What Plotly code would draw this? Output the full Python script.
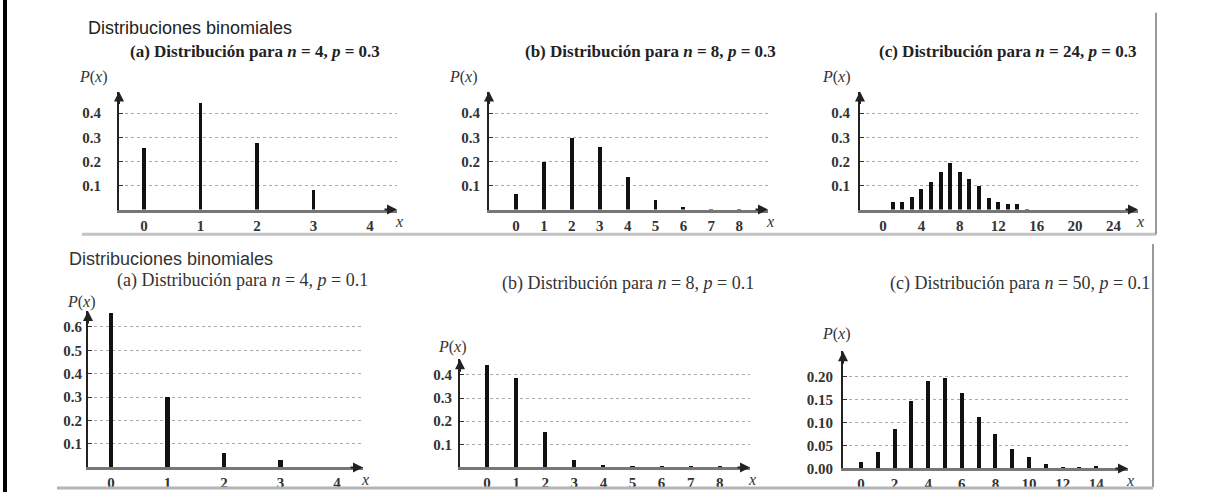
import plotly.graph_objects as go

# ---------------- data ----------------
top_a_x = [0, 1, 2, 3, 4]
top_a_p = [0.256, 0.445, 0.28, 0.082, 0.0]

top_b_x = [0, 1, 2, 3, 4, 5, 6, 7, 8]
top_b_p = [0.065, 0.20, 0.298, 0.262, 0.136, 0.041, 0.014, 0.006, 0.003]

top_c_x = list(range(0, 25))
top_c_p = [0.0, 0.034, 0.034, 0.054, 0.088, 0.115, 0.156, 0.194, 0.156, 0.129,
           0.102, 0.052, 0.034, 0.027, 0.027, 0.003, 0.0, 0.0, 0.0, 0.0,
           0.0, 0.0, 0.0, 0.0, 0.0]

bot_a_x = [0, 1, 2, 3, 4]
bot_a_p = [0.66, 0.30, 0.063, 0.03, 0.0]

bot_b_x = [0, 1, 2, 3, 4, 5, 6, 7, 8]
bot_b_p = [0.44, 0.387, 0.152, 0.031, 0.008, 0.004, 0.004, 0.003, 0.003]

bot_c_x = list(range(0, 16))
bot_c_p = [0.014, 0.036, 0.086, 0.146, 0.189, 0.196, 0.163, 0.111, 0.075, 0.041,
           0.024, 0.009, 0.003, 0.002, 0.005, 0.0]

top_a_xticks = [0, 1, 2, 3, 4]
top_b_xticks = [0, 1, 2, 3, 4, 5, 6, 7, 8]
top_c_xticks = [0, 4, 8, 12, 16, 20, 24]
bot_a_xticks = [0, 1, 2, 3, 4]
bot_b_xticks = [0, 1, 2, 3, 4, 5, 6, 7, 8]
bot_c_xticks = [0, 2, 4, 6, 8, 10, 12, 14]

top_yticks = [0.1, 0.2, 0.3, 0.4]
top_yticktext = ["0.1", "0.2", "0.3", "0.4"]
bot_a_yticks = [0.1, 0.2, 0.3, 0.4, 0.5, 0.6]
bot_a_yticktext = ["0.1", "0.2", "0.3", "0.4", "0.5", "0.6"]
bot_b_yticks = [0.1, 0.2, 0.3, 0.4]
bot_b_yticktext = ["0.1", "0.2", "0.3", "0.4"]
bot_c_yticks = [0.0, 0.05, 0.10, 0.15, 0.20]
bot_c_yticktext = ["0.00", "0.05", "0.10", "0.15", "0.20"]

top_titles = [
    "<b>(a) Distribución para <i>n</i> = 4, <i>p</i> = 0.3</b>",
    "<b>(b) Distribución para <i>n</i> = 8, <i>p</i> = 0.3</b>",
    "<b>(c) Distribución para <i>n</i> = 24, <i>p</i> = 0.3</b>",
]
bot_titles = [
    "(a) Distribución para <i>n</i> = 4, <i>p</i> = 0.1",
    "(b) Distribución para <i>n</i> = 8, <i>p</i> = 0.1",
    "(c) Distribución para <i>n</i> = 50, <i>p</i> = 0.1",
]
header = "Distribuciones binomiales"

# ---------------- layout helpers ----------------
W, H = 1210, 500


def px(x):
    return x / W


def py(y):
    return 1 - y / H


panels = [
    dict(x0=119, x1=397, yt=93, yb=213, xr=[-0.442, 4.478], yr=[0, 0.49], bw=0.07,
         x=top_a_x, p=top_a_p, xt=top_a_xticks, yv=top_yticks, ytx=top_yticktext, so=13),
    dict(x0=489, x1=768, yt=93, yb=213, xr=[-0.968, 9.03], yr=[0, 0.49], bw=0.14,
         x=top_b_x, p=top_b_p, xt=top_b_xticks, yv=top_yticks, ytx=top_yticktext, so=4),
    dict(x0=860, x1=1138, yt=93, yb=213, xr=[-2.40, 26.56], yr=[0, 0.49], bw=0.42,
         x=top_c_x, p=top_c_p, xt=top_c_xticks, yv=top_yticks, ytx=top_yticktext, so=5),
    dict(x0=88, x1=363, yt=316, yb=475, xr=[-0.407, 4.46], yr=[0, 0.668], bw=0.08,
         x=bot_a_x, p=bot_a_p, xt=bot_a_xticks, yv=bot_a_yticks, ytx=bot_a_yticktext, so=1),
    dict(x0=460, x1=750, yt=365, yb=475, xr=[-0.93, 9.04], yr=[0, 0.468], bw=0.14,
         x=bot_b_x, p=bot_b_p, xt=bot_b_xticks, yv=bot_b_yticks, ytx=bot_b_yticktext, so=3),
    dict(x0=843, x1=1128, yt=357, yb=476, xr=[-1.07, 15.89], yr=[0, 0.255], bw=0.24,
         x=bot_c_x, p=bot_c_p, xt=bot_c_xticks, yv=bot_c_yticks, ytx=bot_c_yticktext, so=5),
]

# P(x) label offsets (px) relative to axis corner
plabel = [(-26, -15), (-26, -15), (-24, -15), (-6, -9), (-8, -12), (-7, -18)]

fig = go.Figure()
layout = dict(
    width=W, height=H, margin=dict(l=0, r=0, t=0, b=0),
    paper_bgcolor="white", plot_bgcolor="rgba(0,0,0,0)",
    showlegend=False, bargap=0,
)
annotations = []
shapes = []

serif = "Liberation Serif"

for i, pn in enumerate(panels, start=1):
    xa = "x" if i == 1 else f"x{i}"
    ya = "y" if i == 1 else f"y{i}"
    fig.add_trace(go.Bar(x=pn["x"], y=pn["p"], width=pn["bw"],
                         marker=dict(color="#111", line=dict(width=0)),
                         xaxis=xa, yaxis=ya, hoverinfo="x+y"))
    key = "" if i == 1 else str(i)
    layout["xaxis" + key] = dict(
        domain=[px(pn["x0"]), px(pn["x1"])], range=pn["xr"], anchor=ya,
        showgrid=False, zeroline=False, showline=True, linecolor="#777", linewidth=3,
        tickmode="array", tickvals=pn["xt"], ticktext=[str(v) for v in pn["xt"]],
        ticks="", ticklabelstandoff=0,
        tickfont=dict(family=serif, size=15, color="#333", weight="bold"),
        fixedrange=True,
    )
    layout["yaxis" + key] = dict(
        domain=[py(pn["yb"]), py(pn["yt"])], range=pn["yr"], anchor=xa,
        showgrid=True, gridcolor="#aaa", griddash="dot", gridwidth=1,
        zeroline=False, showline=True, linecolor="#222", linewidth=2,
        tickmode="array", tickvals=pn["yv"], ticktext=pn["ytx"],
        ticks="inside", ticklen=4, tickcolor="#333", ticklabelstandoff=pn["so"],
        tickfont=dict(family=serif, size=15, color="#333", weight="bold"),
        fixedrange=True,
    )
    # axis arrowheads
    annotations.append(dict(xref=f"{xa} domain", yref=f"{ya} domain", x=0, y=1,
                            ax=0, ay=14, text="", showarrow=True, arrowhead=2,
                            arrowsize=1, arrowwidth=2, arrowcolor="#222"))
    annotations.append(dict(xref=f"{xa} domain", yref=f"{ya} domain", x=1, y=0,
                            ax=-14, ay=0, text="", showarrow=True, arrowhead=2,
                            arrowsize=1, arrowwidth=2, arrowcolor="#222"))
    # x label
    annotations.append(dict(xref=f"{xa} domain", yref=f"{ya} domain", x=1, y=0,
                            xanchor="center", yanchor="middle",
                            yshift=-12, xshift=2, text="<i>x</i>", showarrow=False,
                            font=dict(family=serif, size=16, color="#333")))
    # P(x) label
    dx, dy = plabel[i - 1]
    annotations.append(dict(xref="paper", yref="paper", xanchor="center", yanchor="middle",
                            x=px(pn["x0"] + dx), y=py(pn["yt"] + dy),
                            text="<i>P</i>(<i>x</i>)", showarrow=False,
                            font=dict(family=serif, size=16, color="#333")))

# headers
annotations.append(dict(xref="paper", yref="paper", x=px(86), y=py(28),
                        xanchor="left", yanchor="middle",
                        text=header, showarrow=False,
                        font=dict(family="Liberation Sans", size=18, color="#222")))
annotations.append(dict(xref="paper", yref="paper", x=px(67), y=py(263),
                        xanchor="left", yanchor="middle",
                        text=header, showarrow=False,
                        font=dict(family="Liberation Sans", size=18, color="#333")))

# panel titles
top_centers = [255, 650, 1007]
for t, cx in zip(top_titles, top_centers):
    annotations.append(dict(xref="paper", yref="paper", x=px(cx), y=py(52),
                            xanchor="center", yanchor="middle",
                            text=t, showarrow=False,
                            font=dict(family=serif, size=17, color="#222")))
bot_pos = [(243, 285, "center"), (628, 288, "center"), (1152, 288, "right")]
for t, (cx, cy, anc) in zip(bot_titles, bot_pos):
    annotations.append(dict(xref="paper", yref="paper", x=px(cx), y=py(cy),
                            xanchor=anc, yanchor="middle",
                            text=t, showarrow=False,
                            font=dict(family=serif, size=18, color="#333")))

# frame lines of the scanned page
line_specs = [
    (5, 0, 5, 500, "#000", 4),
    (82, 238, 1156, 238, "#c4c4c4", 3),
    (1156, 13, 1156, 238, "#999", 2),
    (1153, 248, 1153, 495, "#999", 2),
    (57, 496, 1153, 496, "#b5b5b5", 3),
]
for x0, y0, x1, y1, c, w in line_specs:
    shapes.append(dict(type="line", xref="paper", yref="paper",
                       x0=px(x0), y0=py(y0), x1=px(x1), y1=py(y1),
                       line=dict(color=c, width=w)))

layout["annotations"] = annotations
layout["shapes"] = shapes
fig.update_layout(**layout)
fig.write_html("out.html", config={"displayModeBar": False})
